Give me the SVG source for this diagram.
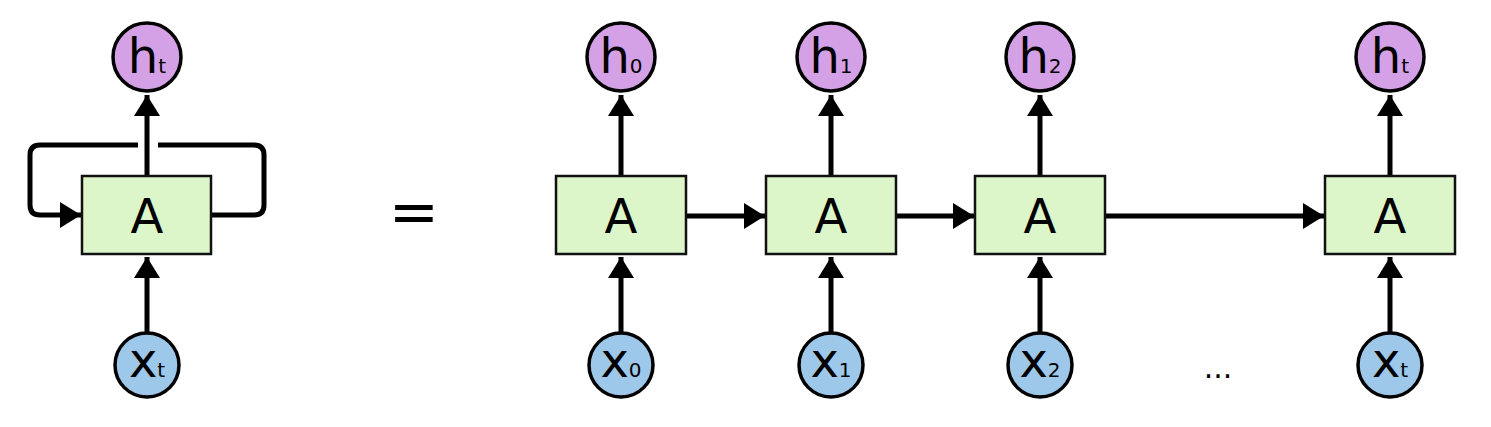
<svg xmlns="http://www.w3.org/2000/svg" width="1491" height="427" viewBox="0 0 1491 427">
<style>
.box{fill:#dcf5c9;stroke:#111;stroke-width:2.5}
.h{fill:#d4a1e6;stroke:#000;stroke-width:3.5}
.x{fill:#9dc8ea;stroke:#000;stroke-width:3.5}
.lbl{font-family:"DejaVu Sans",sans-serif;fill:#000}
.big{font-size:48px}
.sub{font-size:20px}
.conn{fill:none;stroke:#000;stroke-width:5;stroke-linejoin:round}
</style>
<defs>
<marker id="arr" markerUnits="userSpaceOnUse" markerWidth="24" markerHeight="28" refX="21" refY="13" orient="auto">
<path d="M0,0 L21,13 L0,26 Z" fill="#000"/>
</marker>
</defs>
<g id="connectors">
<path class="conn" d="M211,215 H254 Q264,215 264,205 V155 Q264,145 254,145 H158"/>
<path class="conn" d="M138,145 H40 Q30,145 30,155 V205 Q30,215 40,215 H81" marker-end="url(#arr)"/>
<path class="conn" d="M147,176 V95" marker-end="url(#arr)"/>
<path class="conn" d="M147,333 V257" marker-end="url(#arr)"/>
<path class="conn" d="M621,176 V95" marker-end="url(#arr)"/>
<path class="conn" d="M621,333 V257" marker-end="url(#arr)"/>
<path class="conn" d="M831,176 V95" marker-end="url(#arr)"/>
<path class="conn" d="M831,333 V257" marker-end="url(#arr)"/>
<path class="conn" d="M1040,176 V95" marker-end="url(#arr)"/>
<path class="conn" d="M1040,333 V257" marker-end="url(#arr)"/>
<path class="conn" d="M1390,176 V95" marker-end="url(#arr)"/>
<path class="conn" d="M1390,333 V257" marker-end="url(#arr)"/>
<path class="conn" d="M686,216 H765" marker-end="url(#arr)"/>
<path class="conn" d="M896,216 H974" marker-end="url(#arr)"/>
<path class="conn" d="M1105,216 H1324" marker-end="url(#arr)"/>
</g>
<g id="A_loop"><rect class="box" x="82" y="176" width="129" height="78"/><text class="lbl big" x="147" y="233" text-anchor="middle">A</text></g>
<g id="h_loop"><circle class="h" cx="147" cy="57" r="34"/><text class="lbl" x="147" y="73" text-anchor="middle"><tspan class="big">h</tspan><tspan class="sub">t</tspan></text></g>
<g id="x_loop"><circle class="x" cx="147" cy="365" r="32"/><text class="lbl" x="147" y="377" text-anchor="middle"><tspan class="big">x</tspan><tspan class="sub">t</tspan></text></g>
<g id="equals"><text class="lbl" x="414" y="232" text-anchor="middle" font-size="60">=</text></g>
<g id="A0"><rect class="box" x="556" y="176" width="130" height="78"/><text class="lbl big" x="621" y="233" text-anchor="middle">A</text></g>
<g id="h0"><circle class="h" cx="621" cy="57" r="34"/><text class="lbl" x="621" y="73" text-anchor="middle"><tspan class="big">h</tspan><tspan class="sub">0</tspan></text></g>
<g id="x0"><circle class="x" cx="621" cy="365" r="32"/><text class="lbl" x="621" y="377" text-anchor="middle"><tspan class="big">x</tspan><tspan class="sub">0</tspan></text></g>
<g id="A1"><rect class="box" x="766" y="176" width="130" height="78"/><text class="lbl big" x="831" y="233" text-anchor="middle">A</text></g>
<g id="h1"><circle class="h" cx="831" cy="57" r="34"/><text class="lbl" x="831" y="73" text-anchor="middle"><tspan class="big">h</tspan><tspan class="sub">1</tspan></text></g>
<g id="x1"><circle class="x" cx="831" cy="365" r="32"/><text class="lbl" x="831" y="377" text-anchor="middle"><tspan class="big">x</tspan><tspan class="sub">1</tspan></text></g>
<g id="A2"><rect class="box" x="975" y="176" width="130" height="78"/><text class="lbl big" x="1040" y="233" text-anchor="middle">A</text></g>
<g id="h2"><circle class="h" cx="1040" cy="57" r="34"/><text class="lbl" x="1040" y="73" text-anchor="middle"><tspan class="big">h</tspan><tspan class="sub">2</tspan></text></g>
<g id="x2"><circle class="x" cx="1040" cy="365" r="32"/><text class="lbl" x="1040" y="377" text-anchor="middle"><tspan class="big">x</tspan><tspan class="sub">2</tspan></text></g>
<g id="dots"><text class="lbl" x="1218" y="378" text-anchor="middle" font-size="30">...</text></g>
<g id="At"><rect class="box" x="1325" y="176" width="130" height="78"/><text class="lbl big" x="1390" y="233" text-anchor="middle">A</text></g>
<g id="ht"><circle class="h" cx="1390" cy="57" r="34"/><text class="lbl" x="1390" y="73" text-anchor="middle"><tspan class="big">h</tspan><tspan class="sub">t</tspan></text></g>
<g id="xt"><circle class="x" cx="1390" cy="365" r="32"/><text class="lbl" x="1390" y="377" text-anchor="middle"><tspan class="big">x</tspan><tspan class="sub">t</tspan></text></g>
</svg>
